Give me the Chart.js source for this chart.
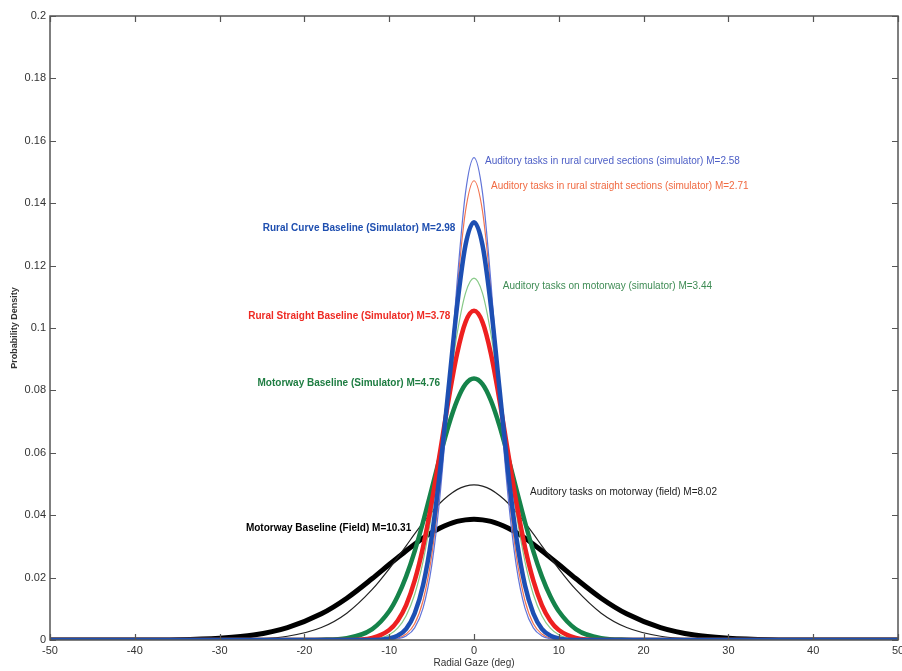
<!DOCTYPE html>
<html>
<head>
<meta charset="utf-8">
<script src="https://cdn.jsdelivr.net/npm/chart.js@4.4.1/dist/chart.umd.min.js"></script>
<style>
  html, body { margin: 0; padding: 0; background: #fff; }
  #wrap { width: 902px; height: 671px; }
</style>
</head>
<body>
<div id="wrap"><canvas id="gazeChart" width="902" height="671"></canvas></div>
<script>
// radial gaze (deg) sample positions
const gazeX = [-50, -40, -35, -30, -26, -22, -18, -15, -12, -10, -9, -8, -7, -6, -5, -4, -3, -2, -1, 0,
               1, 2, 3, 4, 5, 6, 7, 8, 9, 10, 12, 15, 18, 22, 26, 30, 35, 40, 50];

// half curves from 0 outwards (x = 0,1,...,10,12,15,18,22,26,30,35,40,50), mirrored for the left side
const ruralCurveAud   = [0.1546, 0.1434, 0.1145, 0.0786, 0.0465, 0.0236, 0.0103, 0.0039, 0.0013, 0.0004, 0.0001, 0, 0, 0, 0, 0, 0, 0, 0, 0];
const ruralStraightAud = [0.1472, 0.1375, 0.1121, 0.0798, 0.0495, 0.0268, 0.0127, 0.0052, 0.0019, 0.0006, 0.0002, 0, 0, 0, 0, 0, 0, 0, 0, 0];
const ruralCurveBase  = [0.1339, 0.1266, 0.1069, 0.0807, 0.0544, 0.0328, 0.0176, 0.0085, 0.0036, 0.0014, 0.0005, 0, 0, 0, 0, 0, 0, 0, 0, 0];
const motorwayAud     = [0.1160, 0.1112, 0.0980, 0.0793, 0.0590, 0.0403, 0.0253, 0.0146, 0.0078, 0.0038, 0.0017, 0.0003, 0, 0, 0, 0, 0, 0, 0, 0];
const ruralStraightBase = [0.1055, 0.1019, 0.0917, 0.0770, 0.0603, 0.0440, 0.0299, 0.0190, 0.0112, 0.0062, 0.0032, 0.0007, 0, 0, 0, 0, 0, 0, 0, 0];
const motorwayBase    = [0.0838, 0.0820, 0.0767, 0.0687, 0.0589, 0.0483, 0.0379, 0.0284, 0.0204, 0.0140, 0.0092, 0.0035, 0.0006, 0.0001, 0, 0, 0, 0, 0, 0];
const motorwayFieldAud = [0.0497, 0.0493, 0.0482, 0.0463, 0.0439, 0.0409, 0.0376, 0.0340, 0.0302, 0.0265, 0.0228, 0.0162, 0.0086, 0.0040, 0.0012, 0.0003, 0, 0, 0, 0];
const motorwayFieldBase = [0.0387, 0.0385, 0.0380, 0.0371, 0.0359, 0.0344, 0.0327, 0.0307, 0.0286, 0.0264, 0.0242, 0.0197, 0.0134, 0.0084, 0.0040, 0.0016, 0.0006, 0.0001, 0, 0];

const xTicks = [-50, -40, -30, -20, -10, 0, 10, 20, 30, 40, 50];
const yTicks = [0, 0.02, 0.04, 0.06, 0.08, 0.1, 0.12, 0.14, 0.16, 0.18, 0.2];

const seriesNames = [
    'Rural Curve Baseline (Simulator) M=2.98',
    'Auditory tasks in rural curved sections (simulator) M=2.58',
    'Auditory tasks in rural straight sections (simulator) M=2.71',
    'Rural Straight Baseline (Simulator) M=3.78',
    'Auditory tasks on motorway (simulator) M=3.44',
    'Motorway Baseline (Simulator) M=4.76',
    'Auditory tasks on motorway (field) M=8.02',
    'Motorway Baseline (Field) M=10.31'
];
const seriesHalves = [ruralCurveBase, ruralCurveAud, ruralStraightAud, ruralStraightBase,
                      motorwayAud, motorwayBase, motorwayFieldAud, motorwayFieldBase];
const seriesColors = ['#1d4fb3', '#6174d8', '#f2734f', '#ee2020', '#86c986', '#15834a', '#222222', '#000000'];
const seriesWidths = [4.5, 1.2, 1.2, 4.5, 1.2, 4.5, 1.2, 5];

// text labels placed in data coordinates
const labels = [
    { text: seriesNames[1], x: 1.3,  y: 0.1535, align: 'left',  color: '#4c5ec6', bold: false, w: 261 },
    { text: seriesNames[2], x: 2.0,  y: 0.1455, align: 'left',  color: '#f06a42', bold: false, w: 265 },
    { text: seriesNames[0], x: -2.2, y: 0.1320, align: 'right', color: '#1f4fb0', bold: true,  w: 199 },
    { text: seriesNames[4], x: 3.4,  y: 0.1135, align: 'left',  color: '#3f8c55', bold: false, w: 214 },
    { text: seriesNames[3], x: -2.8, y: 0.1038, align: 'right', color: '#ee2b24', bold: true,  w: 209 },
    { text: seriesNames[5], x: -4.0, y: 0.0824, align: 'right', color: '#1e7d42', bold: true,  w: 189 },
    { text: seriesNames[6], x: 6.6,  y: 0.0474, align: 'left',  color: '#222222', bold: false, w: 192 },
    { text: seriesNames[7], x: -7.4, y: 0.0359, align: 'right', color: '#000000', bold: true,  w: 172 }
];

// x values at 0,1..10,12,15,18,22,26,30,35,40,50 match half arrays
const halfX = [0, 1, 2, 3, 4, 5, 6, 7, 8, 9, 10, 12, 15, 18, 22, 26, 30, 35, 40, 50];
function toPoints(half) {
    return gazeX.map(x => ({ x: x, y: half[halfX.indexOf(Math.abs(x))] }));
}

const datasets = seriesHalves.map((half, i) => ({
    label: seriesNames[i],
    data: toPoints(half),
    borderColor: seriesColors[i],
    borderWidth: seriesWidths[i],
    pointRadius: 0,
    fill: false,
    cubicInterpolationMode: 'monotone'
}));

const frame = {
    id: 'frame',
    afterDatasetsDraw(chart) {
        const { ctx, chartArea: a, scales } = chart;
        ctx.save();
        ctx.strokeStyle = '#555';
        ctx.lineWidth = 1.5;
        ctx.strokeRect(a.left, a.top, a.right - a.left, a.bottom - a.top);
        ctx.lineWidth = 1.2;
        ctx.beginPath();
        xTicks.forEach(v => {
            const px = Math.round(scales.x.getPixelForValue(v)) + 0.5;
            ctx.moveTo(px, a.bottom); ctx.lineTo(px, a.bottom - 6);
            ctx.moveTo(px, a.top); ctx.lineTo(px, a.top + 6);
        });
        yTicks.forEach(v => {
            const py = Math.round(scales.y.getPixelForValue(v)) + 0.5;
            ctx.moveTo(a.left, py); ctx.lineTo(a.left + 6, py);
            ctx.moveTo(a.right, py); ctx.lineTo(a.right - 6, py);
        });
        ctx.stroke();

        // series labels
        ctx.textBaseline = 'middle';
        labels.forEach(l => {
            ctx.font = (l.bold ? 'bold ' : '') + '10px "Liberation Sans", Arial, sans-serif';
            ctx.fillStyle = l.color;
            ctx.textAlign = l.align;
            ctx.fillText(l.text, scales.x.getPixelForValue(l.x), scales.y.getPixelForValue(l.y), l.w);
        });

        // axis titles
        ctx.fillStyle = '#333';
        ctx.textAlign = 'center';
        ctx.font = '10px "Liberation Sans", Arial, sans-serif';
        ctx.fillText('Radial Gaze (deg)', (a.left + a.right) / 2, 663, 92);
        ctx.translate(15, 328);
        ctx.rotate(-Math.PI / 2);
        ctx.font = 'bold 9px "Liberation Sans", Arial, sans-serif';
        ctx.fillText('Probability Density', 0, 0, 92);
        ctx.restore();
    }
};

new Chart(document.getElementById('gazeChart'), {
    type: 'line',
    data: { datasets: datasets },
    options: {
        responsive: false,
        animation: false,
        layout: { padding: { top: 16, right: 4, left: 0, bottom: 0 } },
        plugins: { legend: { display: false }, tooltip: { enabled: false } },
        scales: {
            x: {
                type: 'linear',
                min: -50, max: 50,
                afterBuildTicks: s => { s.ticks = xTicks.map(v => ({ value: v })); },
                afterFit: s => { s.height = 31; s.paddingLeft = 0; s.paddingRight = 0; },
                grid: { display: false, drawTicks: false },
                border: { display: false },
                ticks: {
                    padding: 4, maxRotation: 0, autoSkip: false,
                    color: '#333', font: { family: '"Liberation Sans", Arial', size: 11 },
                    callback: v => String(v)
                }
            },
            y: {
                type: 'linear',
                min: 0, max: 0.2,
                afterBuildTicks: s => { s.ticks = yTicks.map(v => ({ value: v })); },
                afterFit: s => { s.width = 50; s.paddingTop = 0; s.paddingBottom = 0; },
                grid: { display: false, drawTicks: false },
                border: { display: false },
                ticks: {
                    padding: 4, autoSkip: false,
                    color: '#333', font: { family: '"Liberation Sans", Arial', size: 11 },
                    callback: v => String(+v.toFixed(2))
                }
            }
        }
    },
    plugins: [frame]
});
</script>
</body>
</html>
